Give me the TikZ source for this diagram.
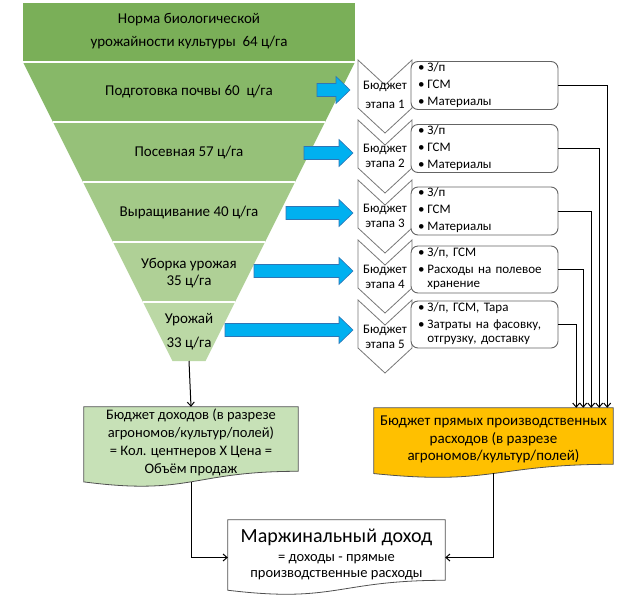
\documentclass[tikz,border=0pt]{standalone}
\usepackage{fontspec}
\setmainfont{Carlito}
\usetikzlibrary{arrows.meta,calc,backgrounds}
\definecolor{gA}{RGB}{122,175,88}
\definecolor{gB}{RGB}{135,184,104}
\definecolor{gC}{RGB}{150,193,121}
\definecolor{gD}{RGB}{163,201,136}
\definecolor{gE}{RGB}{175,208,150}
\definecolor{gF}{RGB}{187,216,165}
\definecolor{arrblue}{RGB}{0,176,240}
\definecolor{arredge}{RGB}{47,117,181}
\definecolor{incgreen}{RGB}{199,225,183}
\definecolor{orng}{RGB}{255,192,0}
\definecolor{chevgray}{RGB}{120,120,120}
\definecolor{boxgray}{RGB}{100,100,100}
\definecolor{docedge}{RGB}{80,80,80}
\newcommand\bluearrowshape[3]{\draw[bluearr] (#1,#3-6.5) -- (#2-14,#3-6.5) -- (#2-14,#3-13.5) -- (#2,#3) -- (#2-14,#3+13.5) -- (#2-14,#3+6.5) -- (#1,#3+6.5) -- cycle;}
\newcommand\chevshape[1]{\draw[chev] (358,#1) -- (385,#1+25) -- (412,#1) -- (412,#1+48) -- (385,#1+73) -- (358,#1+48) -- cycle;}
\newcommand\docpath[2]{\path[#2] (#1.north west) -- (#1.north east) -- ($(#1.north east)!0.802!(#1.south east)$) .. controls ($(#1.north)!0.802!(#1.south)$) and ($(#1.north)!1.1075!(#1.south)$) .. ($(#1.north west)!0.934!(#1.south west)$) -- cycle;}
\newcommand\bl[1]{\begin{tabular}{@{}l@{\hspace{3pt}}l@{}}#1\end{tabular}}
\begin{document}
\begin{tikzpicture}[x=1pt,y=-1pt,
 ftext/.style={font=\fontsize{15}{23}\selectfont, align=center, inner sep=0pt},
 bluearr/.style={fill=arrblue, draw=arredge, line width=0.6pt},
 chev/.style={fill=white, draw=chevgray, line width=0.8pt, line join=miter},
 chtext/.style={font=\fontsize{13}{15}\selectfont, align=center, inner sep=0pt},
 bbox/.style={draw=boxgray, fill=white, line width=0.9pt, rounded corners=7pt, minimum width=147pt, minimum height=47pt, text width=133pt, inner xsep=7pt, inner ysep=0pt, align=left, font=\fontsize{13}{14}\selectfont},
 docarea/.style={inner sep=0pt, draw=none},
 conn/.style={draw=black, line width=1pt, -{Straight Barb[length=4pt,width=7pt]}},
 dtext/.style={font=\fontsize{14.5}{18}\selectfont, align=center, inner sep=0pt},
]
\useasboundingbox (0,0) rectangle (620,600);
% funnel
\fill[gA] (23,3) rectangle (355,62);
\fill[gB] (23,62) -- (355,62) -- (325,122) -- (53,122) -- cycle;
\fill[gC] (53,122) -- (325,122) -- (295,182) -- (83,182) -- cycle;
\fill[gD] (83,182) -- (295,182) -- (265,242) -- (113,242) -- cycle;
\fill[gE] (113,242) -- (265,242) -- (235,302) -- (143,302) -- cycle;
\fill[gF] (143,302) -- (235,302) -- (205.5,361) -- (172.5,361) -- cycle;
\begin{scope}[draw=white, line width=1.5pt]
\draw (23,62) -- (355,62);
\draw (53,122) -- (325,122);
\draw (83,182) -- (295,182);
\draw (113,242) -- (265,242);
\draw (143,302) -- (235,302);
\end{scope}
\coordinate (fb) at (189,361);
\node[ftext] (t1) at (189,31.5) {Норма биологической\\урожайности культуры\ \ 64 ц/га};
\node[ftext] (t2) at (189,92) {Подготовка почвы 60\ \ ц/га};
\node[ftext] (t3) at (189,153) {Посевная 57 ц/га};
\node[ftext] (t4) at (189,213) {Выращивание 40 ц/га};
\node[ftext, font=\fontsize{15}{17}\selectfont] (t5) at (189,273) {Уборка урожая\\35 ц/га};
\node[ftext, font=\fontsize{15}{24}\selectfont] (t6) at (189,332) {Урожай\\33 ц/га};
% blue arrows
\bluearrowshape{317}{350}{90}
\bluearrowshape{304}{353}{153}
\bluearrowshape{286}{353}{213}
\bluearrowshape{254}{353}{271}
\bluearrowshape{225}{353}{330}
% chevrons
\chevshape{60}
\chevshape{120}
\chevshape{180}
\chevshape{240}
\chevshape{300}
% boxes
\node[bbox] (b1) at (484.5,85.5) {\bl{\textbullet & З/п\\[3pt] \textbullet & ГСМ\\[3pt] \textbullet & Материалы}};
\node[bbox] (b2) at (484.5,148.5) {\bl{\textbullet & З/п\\[3pt] \textbullet & ГСМ\\[3pt] \textbullet & Материалы}};
\node[bbox] (b3) at (484.5,211) {\bl{\textbullet & З/п\\[3pt] \textbullet & ГСМ\\[3pt] \textbullet & Материалы}};
\node[bbox] (b4) at (484.5,269.5) {\bl{\textbullet & З/п, ГСМ\\[3pt] \textbullet & Расходы на полевое\\ & хранение}};
\node[bbox] (b5) at (484.5,324.5) {\bl{\textbullet & З/п, ГСМ, Тара\\[3pt] \textbullet & Затраты на фасовку,\\ & отгрузку, доставку}};
% chevron texts
\node[chtext, font=\fontsize{13}{19}\selectfont] (c1) at (385,95) {Бюджет\\этапа 1};
\node[chtext] (c2) at (385,156) {Бюджет\\этапа 2};
\node[chtext] (c3) at (385,216) {Бюджет\\этапа 3};
\node[chtext] (c4) at (385,277) {Бюджет\\этапа 4};
\node[chtext] (c5) at (385,337) {Бюджет\\этапа 5};
% document shapes
\node[docarea, minimum width=214pt, minimum height=80pt] (inc) at (191,447) {};
\node[docarea, minimum width=239pt, minimum height=70pt] (orng) at (493.5,443) {};
\node[docarea, minimum width=217pt, minimum height=75pt] (marg) at (336.5,557.5) {};
\begin{scope}[on background layer]
\docpath{inc}{fill=incgreen, draw=docedge, line width=0.8pt}
\docpath{orng}{fill=orng, draw=docedge, line width=0.8pt}
\docpath{marg}{fill=white, draw=docedge, line width=0.8pt}
\end{scope}
\node[dtext] (inct) at (191,442) {Бюджет доходов (в разрезе\\агрономов/культур/полей)\\= Кол. центнеров Х Цена =\\Объём продаж};
\node[dtext, font=\fontsize{15}{17.5}\selectfont] (orngt) at (493.5,439.5) {Бюджет прямых производственных\\расходов (в разрезе\\агрономов/культур/полей)};
\node[dtext, font=\fontsize{14.5}{16}\selectfont] (margt) at (336.5,554) {{\fontsize{20}{22}\selectfont Маржинальный доход}\\[3pt]= доходы - прямые\\производственные расходы};
\coordinate (incb) at ($(inc.north)!0.933!(inc.south)$);
\coordinate (orngb) at ($(orng.north)!0.933!(orng.south)$);
% connectors
\draw[conn] (fb) -- (inc.north);
\draw[conn] (b1.east) -| ($(orng.north east)+(-6,0)$);
\draw[conn] (b2.east) -| ($(orng.north east)+(-14,0)$);
\draw[conn] (b3.east) -| ($(orng.north east)+(-22,0)$);
\draw[conn] (b4.east) -| ($(orng.north east)+(-30,0)$);
\draw[conn] (b5.east) -| ($(orng.north east)+(-37,0)$);
\draw[conn] (incb) |- (marg.west);
\draw[conn] (orngb) |- (marg.east);
\end{tikzpicture}
\end{document}
